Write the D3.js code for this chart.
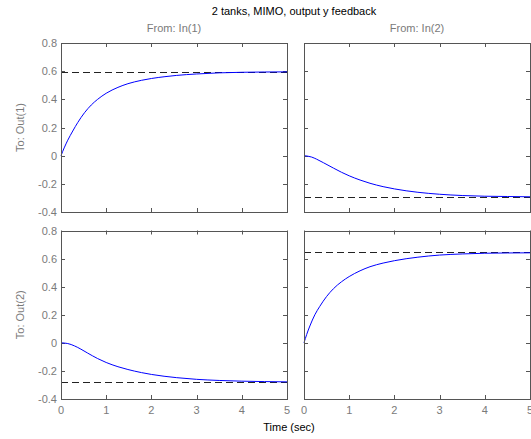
<!DOCTYPE html>
<html>
<head>
<meta charset="utf-8">
<script src="https://cdn.jsdelivr.net/npm/d3@7"></script>
<style>
  body { margin: 0; background: #fff; }
  svg { display: block; font-family: "Liberation Sans", Arial, sans-serif; }
  .frame { fill: none; stroke: #555; stroke-width: 1; }
  .tick-mark { stroke: #555; stroke-width: 1; }
  .tick-label { fill: #7a7a7a; font-size: 11px; }
  .io-label { fill: #7a7a7a; font-size: 11px; }
  .resp { fill: none; stroke: #0000ff; stroke-width: 1; }
  .final { stroke: #222; stroke-width: 1; stroke-dasharray: 7,4; }
</style>
</head>
<body>
<svg id="chart" width="531" height="439"></svg>
<script>
"use strict";

// step response
let timeTicks = [0, 1, 2, 3, 4, 5];
let ampTicks = [-0.4, -0.2, 0, 0.2, 0.4, 0.6, 0.8];
let ampTickLabels = ['-0.4', '-0.2', '0', '0.2', '0.4', '0.6', '0.8'];
let inputNames = ['From: In(1)', 'From: In(2)'];
let outputNames = ['To: Out(1)', 'To: Out(2)'];

let t11 = [0, 0.07, 0.15, 0.26, 0.37, 0.52, 0.67, 0.81, 1.0, 1.26, 1.48, 1.78, 2.0, 2.3, 2.56, 3.0, 3.5, 4.0, 4.5, 5.0];
let y11 = [0, 0.055, 0.11, 0.175, 0.235, 0.305, 0.36, 0.4, 0.443, 0.485, 0.511, 0.535, 0.548, 0.561, 0.57, 0.58, 0.588, 0.592, 0.594, 0.595];

let t12 = [0, 0.17, 0.28, 0.43, 0.65, 0.83, 1.0, 1.24, 1.46, 1.75, 2.0, 2.52, 3.0, 3.5, 4.0, 4.5, 5.0];
let y12 = [0, -0.01, -0.025, -0.05, -0.088, -0.118, -0.143, -0.173, -0.196, -0.22, -0.236, -0.26, -0.274, -0.283, -0.288, -0.29, -0.292];

let t21 = [0, 0.15, 0.3, 0.44, 0.59, 0.81, 1.0, 1.26, 1.48, 1.78, 2.0, 2.56, 3.0, 3.5, 4.0, 4.5, 5.0];
let y21 = [0, -0.005, -0.022, -0.045, -0.073, -0.112, -0.14, -0.17, -0.19, -0.212, -0.225, -0.248, -0.26, -0.268, -0.273, -0.276, -0.278];

let t22 = [0, 0.06, 0.13, 0.24, 0.35, 0.5, 0.65, 0.83, 1.0, 1.24, 1.46, 1.75, 2.0, 2.52, 3.0, 3.5, 4.0, 4.5, 5.0];
let y22 = [0, 0.06, 0.12, 0.2, 0.26, 0.33, 0.385, 0.435, 0.472, 0.513, 0.542, 0.568, 0.585, 0.61, 0.625, 0.633, 0.638, 0.64, 0.641];

// steady-state values (dashed lines)
let final = [[0.594, -0.292], [-0.278, 0.644]];

let series = [
  [{t: t11, y: y11}, {t: t12, y: y12}],
  [{t: t21, y: y21}, {t: t22, y: y22}],
];

let svg = d3.select('#chart');

let colX = [[61, 287], [304, 530]];
let rowY = [[212, 43], [399, 230.5]];
let tickLen = 4;

let line = d3.line().curve(d3.curveMonotoneX);

for (let r = 0; r < 2; r++) {
  for (let c = 0; c < 2; c++) {
    let x = d3.scaleLinear().domain([0, 5]).range(colX[c]);
    let y = d3.scaleLinear().domain([-0.4, 0.8]).range(rowY[r]);
    let g = svg.append('g').attr('class', 'panel');

    // ticks on all four sides, pointing inward
    timeTicks.forEach(v => {
      let px = Math.round(x(v)) + 0.5;
      g.append('line').attr('class', 'tick-mark')
        .attr('x1', px).attr('x2', px)
        .attr('y1', y(-0.4)).attr('y2', y(-0.4) - tickLen);
      g.append('line').attr('class', 'tick-mark')
        .attr('x1', px).attr('x2', px)
        .attr('y1', y(0.8)).attr('y2', y(0.8) + tickLen);
    });
    ampTicks.forEach(v => {
      let py = Math.round(y(v)) + 0.5;
      g.append('line').attr('class', 'tick-mark')
        .attr('x1', x(0)).attr('x2', x(0) + tickLen)
        .attr('y1', py).attr('y2', py);
      g.append('line').attr('class', 'tick-mark')
        .attr('x1', x(5)).attr('x2', x(5) - tickLen)
        .attr('y1', py).attr('y2', py);
    });

    // steady-state line
    g.append('line').attr('class', 'final')
      .attr('x1', x(0)).attr('x2', x(5))
      .attr('y1', Math.round(y(final[r][c])) + 0.5)
      .attr('y2', Math.round(y(final[r][c])) + 0.5);

    // response
    let s = series[r][c];
    g.append('path').attr('class', 'resp')
      .attr('d', line(s.t.map((tv, i) => [x(tv), y(s.y[i])])));

    g.append('rect').attr('class', 'frame')
      .attr('x', Math.round(x(0)) + 0.5)
      .attr('y', Math.round(y(0.8)) + 0.5)
      .attr('width', Math.round(x(5)) - Math.round(x(0)))
      .attr('height', Math.round(y(-0.4)) - Math.round(y(0.8)));

    if (c === 0) {
      ampTicks.forEach((v, i) => {
        g.append('text').attr('class', 'tick-label')
          .attr('x', x(0) - 4)
          .attr('y', y(v) + 4)
          .attr('text-anchor', 'end')
          .text(ampTickLabels[i]);
      });
      g.append('text').attr('class', 'io-label')
        .attr('transform', `translate(24,${(rowY[r][0] + rowY[r][1]) / 2}) rotate(-90)`)
        .attr('text-anchor', 'middle')
        .text(outputNames[r]);
    }
    if (r === 1) {
      timeTicks.forEach(v => {
        g.append('text').attr('class', 'tick-label')
          .attr('x', x(v))
          .attr('y', 414)
          .attr('text-anchor', 'middle')
          .text(v);
      });
    }
    if (r === 0) {
      g.append('text').attr('class', 'io-label')
        .attr('x', (colX[c][0] + colX[c][1]) / 2)
        .attr('y', 32)
        .attr('text-anchor', 'middle')
        .text(inputNames[c]);
    }
  }
}

svg.append('text')
  .attr('x', 294).attr('y', 15)
  .attr('text-anchor', 'middle')
  .style('font-size', '11px')
  .text('2 tanks, MIMO, output y feedback');

svg.append('text')
  .attr('x', 289).attr('y', 431)
  .attr('text-anchor', 'middle')
  .style('font-size', '11px')
  .text('Time (sec)');
</script>
</body>
</html>
